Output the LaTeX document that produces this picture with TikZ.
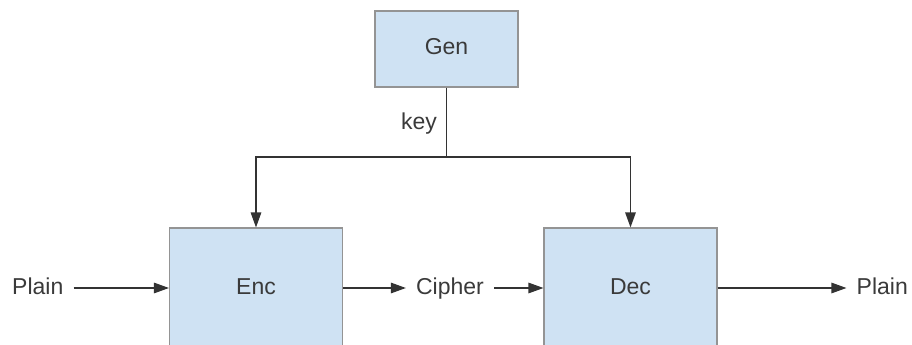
\documentclass[tikz,border=0pt]{standalone}
\usepackage{fontspec}
\setmainfont{Liberation Sans}
\usetikzlibrary{arrows.meta}
\definecolor{boxfill}{HTML}{CFE2F3}
\definecolor{boxline}{HTML}{949494}
\definecolor{txt}{HTML}{3A3A3A}
\definecolor{wire}{HTML}{333333}
\tikzset{
  block/.style={draw=boxline, fill=boxfill, line width=1.1pt, inner sep=0pt,
                text height=17pt, text depth=5pt,
                font=\fontsize{23}{27}\selectfont, text=txt},
  lbl/.style={inner xsep=10pt, inner ysep=0pt, text height=17pt, text depth=5pt,
              font=\fontsize{23}{27}\selectfont, text=txt},
  flow/.style={draw=wire, line width=1.3pt, -{Triangle[length=15pt,width=10.5pt]}},
  link/.style={draw=wire, line width=1.3pt}
}
\begin{document}
\begin{tikzpicture}[x=1pt,y=-1pt]
  \useasboundingbox (0,0) rectangle (912,345);
  \begin{scope}
    \clip (0,0) rectangle (912,345);
    % key generator and the two cipher blocks
    \node[block, minimum width=143pt, minimum height=76pt] (gen) at (446.5,49) {Gen};
    \node[block, minimum width=173pt, minimum height=120pt] (enc) at (256,288) {Enc};
    \node[block, minimum width=173pt, minimum height=120pt] (dec) at (630.5,288) {Dec};
  \end{scope}
  % messages
  \node[lbl, anchor=west] (pin) at (2,288) {Plain};
  \node[lbl] (ct) at (450,288) {Cipher};
  \node[lbl, anchor=east] (pout) at (918,288) {Plain};
  \node[lbl, anchor=east, inner xsep=0pt] (key) at (437,123) {key};
  % key distribution
  \coordinate (split) at (gen.south |- 0,157);
  \draw[link] (gen.south) -- (split);
  \draw[flow] (split) -| (enc.north);
  \draw[flow] (split) -| (dec.north);
  % message flow
  \draw[flow] (pin.east) -- (enc.west);
  \draw[flow] (enc.east) -- (ct.west);
  \draw[flow] (ct.east) -- (dec.west);
  \draw[flow] (dec.east) -- (pout.west);
\end{tikzpicture}
\end{document}
